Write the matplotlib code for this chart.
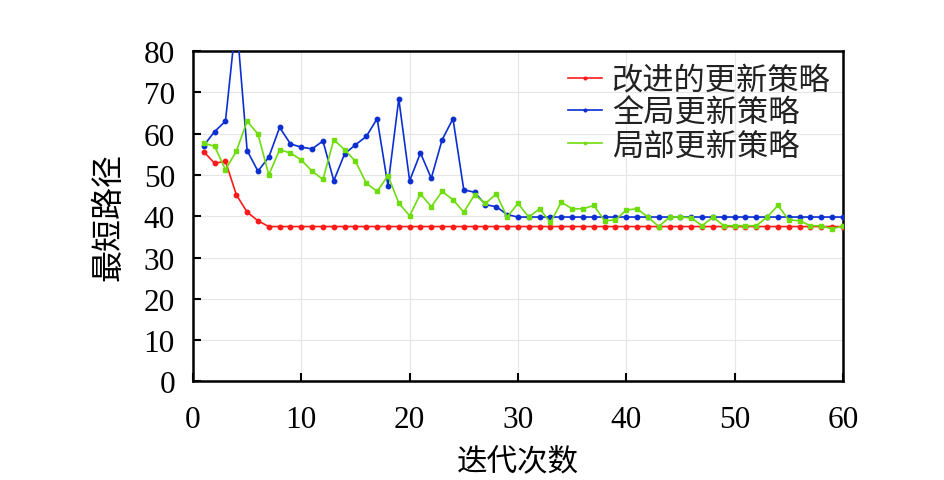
import matplotlib
matplotlib.use("Agg")
import matplotlib.pyplot as plt

iterations = list(range(1, 61))

improved = [55.6, 52.8, 53.3, 45.2, 41.0, 38.9] + [37.5] * 54

global_upd = [57.1, 60.5, 63.0, 88.0, 55.9, 50.9, 54.3, 61.5, 57.5, 56.7,
              56.3, 58.2, 48.6, 55.1, 57.3, 59.3, 63.6, 47.4, 68.4, 48.6,
              55.3, 49.2, 58.5, 63.6, 46.4, 45.8, 42.8, 42.3, 40.4, 39.8] + [39.8] * 30

local_upd = [57.7, 56.9, 51.3, 55.7, 63.0, 59.9, 50.0, 56.1, 55.3, 53.6,
             50.9, 48.9, 58.5, 56.1, 53.3, 48.0, 46.0, 49.8, 43.2, 40.1,
             45.4, 42.3, 46.0, 44.0, 41.0, 45.2, 43.1, 45.4, 39.8, 43.1,
             39.8, 41.8, 38.5, 43.4, 41.8, 41.8, 42.6, 38.9, 39.1, 41.5,
             41.8, 39.8, 37.5, 39.8, 39.8, 39.6, 37.7, 39.8, 37.7, 37.7,
             37.7, 37.7, 39.8, 42.6, 39.1, 38.9, 37.7, 37.7, 36.9, 37.7]

labels = ["改进的更新策略", "全局更新策略", "局部更新策略"]
xticks = [0, 10, 20, 30, 40, 50, 60]
yticks = [0, 10, 20, 30, 40, 50, 60, 70, 80]

cjk = ["Noto Sans CJK SC", "DejaVu Sans"]
serif = ["Liberation Serif", "DejaVu Serif"]

fig = plt.figure(figsize=(9.45, 4.81), dpi=100)
ax = fig.add_axes([0.2042, 0.2048, 0.6878, 0.6872])

ax.plot(iterations, improved, color="#ff1a1a", lw=1.2, marker="o", ms=3.2, label=labels[0], zorder=3)
ax.plot(iterations, global_upd, color="#0b2fd1", lw=1.2, marker="o", ms=3.2, label=labels[1], zorder=4)
ax.plot(iterations, local_upd, color="#6fdc0e", lw=1.2, marker="s", ms=3.2, label=labels[2], zorder=5)

ax.set_xlim(0, 60)
ax.set_ylim(0, 80)
ax.set_xticks(xticks)
ax.set_yticks(yticks)
ax.grid(True, color="#e6e6e6", lw=0.8)
ax.set_axisbelow(True)
ax.tick_params(direction="in", length=6, width=1.5, top=False, right=False)
for lbl in ax.get_xticklabels() + ax.get_yticklabels():
    lbl.set_fontfamily(serif)
    lbl.set_fontsize(22.5)
ax.tick_params(axis="x", pad=17)
ax.tick_params(axis="y", pad=13)
for s in ax.spines.values():
    s.set_linewidth(1.8)

ax.set_xlabel("迭代次数", fontsize=22, family=cjk, labelpad=8)
ax.set_ylabel("最短路径", fontsize=23, family=cjk, labelpad=14)

leg = ax.legend(loc="upper right", frameon=False, prop={"family": cjk, "size": 22.5},
                handlelength=1.1, handletextpad=0.3, labelspacing=0.03,
                borderaxespad=0.0, bbox_to_anchor=(1.0, 1.0), markerscale=0.6)
for t in leg.get_texts():
    t.set_color("#222222")

fig.savefig("out.png", dpi=100)
